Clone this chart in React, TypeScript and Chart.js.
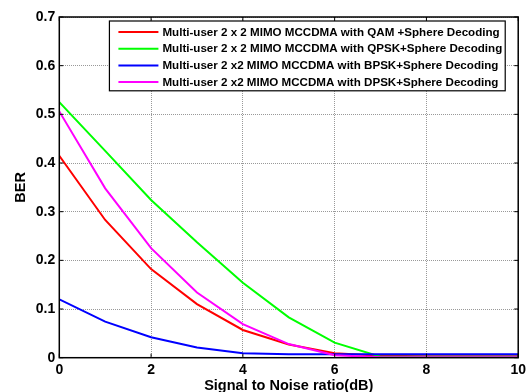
import React, { useEffect, useRef } from "react";
import { Chart, registerables } from "chart.js";

Chart.register(...registerables);

const snr = [0, 1, 2, 3, 4, 5, 6, 7, 8, 9, 10];
const qamBER = [0.415, 0.283, 0.182, 0.110, 0.057, 0.027, 0.009, 0.004, 0.003, 0.003, 0.003];
const qpskBER = [0.525, 0.425, 0.324, 0.237, 0.154, 0.083, 0.031, 0.002, 0.002, 0.002, 0.002];
const bpskBER = [0.120, 0.074, 0.042, 0.021, 0.009, 0.007, 0.007, 0.007, 0.007, 0.007, 0.007];
const dpskBER = [0.506, 0.348, 0.225, 0.134, 0.069, 0.028, 0.005, 0.001, 0.001, 0.001, 0.001];

const seriesLabels = [
  "Multi-user 2 x 2 MIMO MCCDMA with QAM +Sphere Decoding",
  "Multi-user 2 x 2 MIMO MCCDMA with QPSK+Sphere Decoding",
  "Multi-user 2 x2 MIMO MCCDMA with BPSK+Sphere Decoding",
  "Multi-user 2 x2 MIMO MCCDMA with DPSK+Sphere Decoding",
];
const seriesColors = ["#ff0000", "#00ff00", "#0000ff", "#ff00ff"];
const seriesValues = [qamBER, qpskBER, bpskBER, dpskBER];

const xTicks = [0, 2, 4, 6, 8, 10];
const yTicks = [0, 0.1, 0.2, 0.3, 0.4, 0.5, 0.6, 0.7];

const FONT = "'Liberation Sans', Arial, sans-serif";

const boxPlugin = {
  id: "matlabBox",
  afterDraw(chart: any) {
    const { ctx, chartArea: a, scales } = chart;
    ctx.save();
    ctx.strokeStyle = "#000";
    ctx.lineWidth = 1.5;
    ctx.strokeRect(a.left, a.top, a.right - a.left, a.bottom - a.top);
    // inward ticks
    ctx.lineWidth = 1;
    const tl = 4;
    xTicks.forEach((v) => {
      const px = scales.x.getPixelForValue(v);
      ctx.beginPath();
      ctx.moveTo(px, a.bottom);
      ctx.lineTo(px, a.bottom - tl);
      ctx.moveTo(px, a.top);
      ctx.lineTo(px, a.top + tl);
      ctx.stroke();
    });
    yTicks.forEach((v) => {
      const py = scales.y.getPixelForValue(v);
      ctx.beginPath();
      ctx.moveTo(a.left, py);
      ctx.lineTo(a.left + tl, py);
      ctx.moveTo(a.right, py);
      ctx.lineTo(a.right - tl, py);
      ctx.stroke();
    });

    // legend
    ctx.font = `bold 11.6px ${FONT}`;
    const tw = Math.max(...seriesLabels.map((s) => ctx.measureText(s).width));
    const boxW = 53 + tw + 3;
    const rowH = 16.7;
    const boxH = rowH * seriesLabels.length + 3;
    const right = a.right - 13;
    const left = right - boxW;
    const top = a.top + 4;
    ctx.fillStyle = "#fff";
    ctx.fillRect(left, top, boxW, boxH);
    ctx.strokeStyle = "#000";
    ctx.lineWidth = 1.2;
    ctx.strokeRect(left, top, boxW, boxH);
    ctx.textBaseline = "middle";
    ctx.textAlign = "left";
    seriesLabels.forEach((lab, i) => {
      const cy = top + 11 + i * rowH;
      ctx.strokeStyle = seriesColors[i];
      ctx.lineWidth = 2;
      ctx.beginPath();
      ctx.moveTo(left + 9, cy);
      ctx.lineTo(left + 49, cy);
      ctx.stroke();
      ctx.fillStyle = "#000";
      ctx.fillText(lab, left + 53, cy + 0.5);
    });
    ctx.restore();
  },
};

export default function App() {
  const ref = useRef<HTMLCanvasElement | null>(null);
  useEffect(() => {
    if (!ref.current) return;
    const chart = new Chart(ref.current, {
      type: "line",
      data: {
        datasets: seriesValues.map((vals, i) => ({
          label: seriesLabels[i],
          data: snr.map((x, j) => ({ x, y: vals[j] })),
          borderColor: seriesColors[i],
          backgroundColor: seriesColors[i],
          borderWidth: 2,
          pointRadius: 0,
          tension: 0,
          fill: false,
          order: 4 - i,
        })),
      },
      options: {
        animation: false,
        responsive: false,
        maintainAspectRatio: false,
        layout: { padding: { top: 17, right: 9, left: 0, bottom: 0 } },
        plugins: { legend: { display: false }, tooltip: { enabled: false } },
        scales: {
          x: {
            type: "linear",
            min: 0,
            max: 10,
            afterBuildTicks: (s: any) => {
              s.ticks = xTicks.map((v) => ({ value: v }));
            },
            afterFit: (s: any) => {
              s.height = 34.3;
            },
            grid: { color: "#999", lineWidth: 1, drawTicks: false },
            border: { display: false, dash: [1, 1] },
            ticks: {
              color: "#000",
              padding: 4,
              font: { family: FONT, size: 14, weight: "bold" },
              callback: (v: any) => String(v),
            },
            title: {
              display: true,
              text: "Signal to Noise ratio(dB)",
              color: "#000",
              font: { family: FONT, size: 14.5, weight: "bold", lineHeight: 1 },
              padding: { top: 0, bottom: -1.5 },
            },
          },
          y: {
            type: "linear",
            min: 0,
            max: 0.7,
            afterBuildTicks: (s: any) => {
              s.ticks = yTicks.map((v) => ({ value: v }));
            },
            afterFit: (s: any) => {
              s.width = 59.3;
            },
            grid: { color: "#999", lineWidth: 1, drawTicks: false },
            border: { display: false, dash: [1, 1] },
            ticks: {
              color: "#000",
              padding: 4,
              font: { family: FONT, size: 14, weight: "bold" },
              callback: (v: any) => (v === 0 ? "0" : String(Math.round(v * 10) / 10)),
            },
            title: {
              display: true,
              text: "BER",
              color: "#000",
              font: { family: FONT, size: 14.5, weight: "bold", lineHeight: 1 },
              padding: { top: 14, bottom: 0 },
            },
          },
        },
      },
      plugins: [boxPlugin],
    });
    return () => chart.destroy();
  }, []);
  return (
    <div style={{ position: "absolute", left: 0, top: 0, width: 530, height: 392, background: "#fff" }}>
      <canvas ref={ref} width={530} height={392} style={{ width: 530, height: 392 }} />
    </div>
  );
}
